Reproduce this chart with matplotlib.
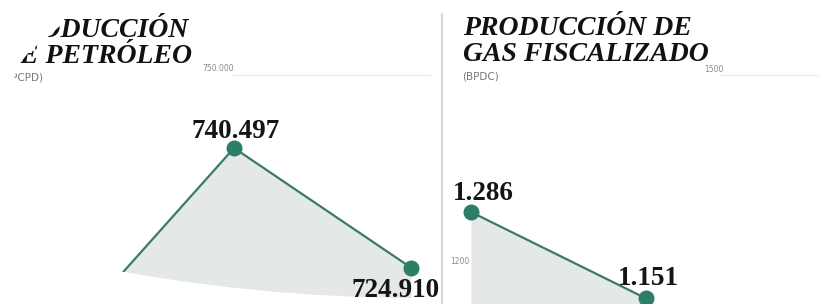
import numpy as np
import matplotlib
matplotlib.use("Agg")
import matplotlib.pyplot as plt
from matplotlib.patches import Ellipse, Polygon
from matplotlib.lines import Line2D


# Data (first oil value is off the visible area, estimated).
oil_pos = [0, 1, 2]
oil_values = [714700, 740497, 724910]
oil_labels = ["", "740.497", "724.910"]
oil_ticks = [750000]
oil_tick_labels = ["750.000"]

gas_pos = [0, 1]
gas_values = [1286, 1151]
gas_labels = ["1.286", "1.151"]
gas_ticks = [1500, 1200]
gas_tick_labels = ["1500", "1200"]

# Colours.
line_color = "#3b7a67"
dot_color = "#2e7d67"
fill_color = "#e4e9e7"
grid_color = "#efefef"

W, H = 819, 304
fig = plt.figure(figsize=(W / 100, H / 100), dpi=100)
fig.patch.set_facecolor("white")


# Helper to turn pixel positions (from the top left) into figure fractions.
def fx(px):
    return px / W


def fy(py):
    return 1 - py / H


# The two panels.
ax1 = fig.add_axes([0, 0, fx(441), 1])
ax2 = fig.add_axes([fx(441), 0, 1 - fx(441), 1])

for ax in (ax1, ax2):
    ax.set_axis_off()

# Scales chosen so the points fall where they sit in the picture.
ax1.set_xlim(-0.322, 2.169)
ax1.set_ylim(720182, 759766)
ax2.set_xlim(-0.171, 1.989)
ax2.set_ylim(1142.2, 1617.2)


# Draws one area line with dots and value labels.
def draw_series(ax, x, y, labels, offsets, clip=None):
    ymin = ax.get_ylim()[0]
    area = ax.fill_between(x, y, ymin, color=fill_color, lw=0, zorder=1)
    line, = ax.plot(x, y, color=line_color, lw=1.6, zorder=2)
    if clip is not None:
        area.set_clip_path(clip)
        line.set_clip_path(clip)
    shown = [i for i, lab in enumerate(labels) if lab]
    ax.plot([x[i] for i in shown], [y[i] for i in shown], "o",
            color=dot_color, ms=10.5, zorder=2.6, clip_on=False)
    for xi, yi, lab, off in zip(x, y, labels, offsets):
        if lab:
            ax.annotate(lab, (xi, yi), xytext=off, textcoords="offset points",
                        ha="center", va="baseline", fontsize=19.5,
                        fontweight="bold", family="Liberation Serif",
                        color="#151515", zorder=5)


# Big round crop of the photo that cuts the bottom of the left area.
crop = Ellipse((fx(420), fy(-1402)), 2 * 1700 / W, 2 * 1700 / H,
               transform=fig.transFigure, facecolor="none", edgecolor="none")

draw_series(ax1, oil_pos, oil_values, oil_labels,
            [(0, 0), (1, 7.5), (-11, -21)], clip=crop)
draw_series(ax2, gas_pos, gas_values, gas_labels,
            [(9, 8.5), (1.5, 9.5)])

# Faint gridlines with their small labels.
ax1.axhline(oil_ticks[0], xmin=233 / 441, xmax=430 / 441, color=grid_color,
            lw=1, zorder=0.5)
ax2.axhline(gas_ticks[0], xmin=(720 - 441) / 378, xmax=1, color=grid_color,
            lw=1, zorder=0.5)
tick_x1 = [202 / 441]
tick_x2 = [(704 - 441) / 378, (450 - 441) / 378]
for xf, v, lab in zip(tick_x1, oil_ticks, oil_tick_labels):
    ax1.annotate(lab, (xf, v), xycoords=("axes fraction", "data"),
                 xytext=(0, 1.5), textcoords="offset points", ha="left",
                 va="bottom", fontsize=5.5, color="#8a8a8a")
for xf, v, lab in zip(tick_x2, gas_ticks, gas_tick_labels):
    ax2.annotate(lab, (xf, v), xycoords=("axes fraction", "data"),
                 xytext=(0, 0.5), textcoords="offset points", ha="left",
                 va="bottom", fontsize=5.5, color="#8a8a8a")

# Titles.
title_kw = dict(fontsize=20, fontweight="bold", fontstyle="italic",
                family="Liberation Serif", color="#111111", va="baseline",
                ha="left", zorder=3)
fig.text(fx(5), fy(37), "PRODUCCIÓN", **title_kw)
fig.text(fx(0), fy(63), "DE PETRÓLEO", **title_kw)
fig.text(fx(463), fy(35), "PRODUCCIÓN DE", **title_kw)
fig.text(fx(463), fy(61), "GAS FISCALIZADO", **title_kw)

sub_kw = dict(fontsize=7.5, color="#777777", va="baseline", ha="left",
              family="DejaVu Sans", zorder=3)
fig.text(fx(0), fy(81), "(BPCPD)", **sub_kw)
fig.text(fx(462), fy(79), "(BPDC)", **sub_kw)

# White cut over the top-left corner (photo crop).
corner = [(0, 0), (70, 0), (67, 15), (61, 25), (50, 35), (40, 43),
          (29, 52), (21, 62), (16, 72), (13, 82), (10, 92), (0, 95)]
top_mask = Polygon([(fx(px), fy(py)) for px, py in corner],
                   transform=fig.transFigure, facecolor="white",
                   edgecolor="none", zorder=4)
fig.patches.append(top_mask)

# Separator between the panels.
fig.lines.append(Line2D([fx(442), fx(442)], [fy(14), fy(304)],
                        transform=fig.transFigure, color="#d9d9d9", lw=1.6))

fig.savefig("out.png", dpi=100, facecolor="white")
